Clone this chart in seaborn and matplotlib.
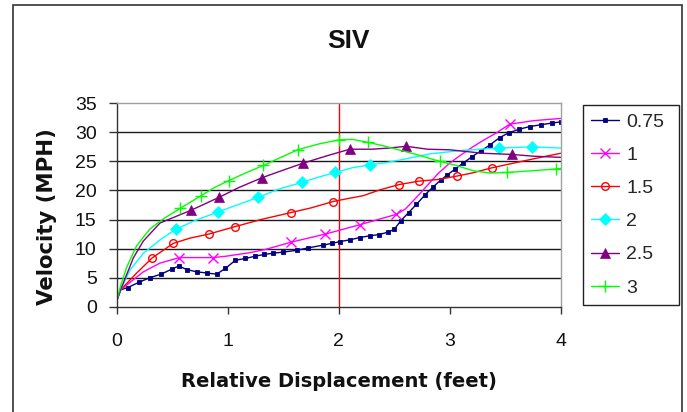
import matplotlib
matplotlib.use("Agg")
import matplotlib.pyplot as plt
from matplotlib.lines import Line2D
from matplotlib.patches import Rectangle
import seaborn as sns

# Relative displacement (feet) and velocity (MPH) for each load level
x_075 = [0, 0.035, 0.1, 0.2, 0.3, 0.4, 0.5, 0.56, 0.63, 0.72, 0.81, 0.9, 0.98, 1.07,
         1.16, 1.25, 1.33, 1.41, 1.5, 1.62, 1.72, 1.86, 1.94, 2.01, 2.1, 2.19, 2.28,
         2.36, 2.44, 2.5, 2.56, 2.63, 2.7, 2.78, 2.85, 2.92, 2.98, 3.05, 3.12, 3.2,
         3.28, 3.36, 3.45, 3.53, 3.62, 3.72, 3.82, 3.92, 4.0]
v_075 = [1.0, 2.9, 3.3, 4.2, 5.0, 5.6, 6.5, 7.0, 6.4, 6.0, 5.8, 5.6, 6.6, 8.0,
         8.3, 8.7, 9.0, 9.2, 9.4, 9.7, 10.1, 10.6, 10.9, 11.2, 11.5, 11.9, 12.2,
         12.4, 12.8, 13.3, 14.8, 16.2, 17.6, 19.3, 20.6, 21.8, 22.7, 23.7, 24.7, 25.8,
         26.8, 27.8, 29.1, 29.9, 30.5, 31.0, 31.3, 31.6, 31.8]

x_1 = [0, 0.035, 0.24, 0.39, 0.564, 0.87, 0.99, 1.2, 1.35, 1.57, 1.88, 2.19, 2.52,
       2.6, 2.7, 2.8, 2.9, 3.0, 3.1, 3.2, 3.3, 3.42, 3.54, 3.75, 4.0]
v_1 = [1.0, 2.9, 6.0, 7.5, 8.45, 8.45, 8.7, 9.3, 9.9, 11.1, 12.5, 14.1, 15.9,
       16.8, 18.8, 20.9, 23.0, 24.7, 26.1, 27.4, 28.6, 29.9, 31.4, 32.0, 32.4]

x_15 = [0, 0.035, 0.18, 0.32, 0.51, 0.66, 0.83, 1.07, 1.3, 1.57, 1.75, 1.95, 2.08,
        2.22, 2.37, 2.54, 2.72, 2.9, 3.07, 3.2, 3.38, 3.55, 3.72, 3.87, 4.0]
v_15 = [1.0, 2.9, 5.8, 8.4, 10.9, 11.8, 12.5, 13.8, 15.0, 16.2, 17.0, 18.1, 18.6,
        19.1, 20.1, 21.0, 21.6, 21.9, 22.5, 23.0, 23.9, 24.6, 25.3, 25.9, 26.4]

x_2 = [0, 0.035, 0.12, 0.24, 0.39, 0.53, 0.69, 0.91, 1.1, 1.27, 1.47, 1.67, 1.82,
       1.97, 2.12, 2.28, 2.43, 2.62, 2.82, 3.12, 3.44, 3.74, 4.0]
v_2 = [1.0, 2.9, 6.3, 9.2, 11.5, 13.3, 14.7, 16.3, 17.6, 18.8, 20.3, 21.4, 22.3,
       23.1, 23.9, 24.4, 24.8, 25.5, 26.3, 26.9, 27.3, 27.5, 27.3]

x_25 = [0, 0.035, 0.15, 0.24, 0.39, 0.53, 0.67, 0.92, 1.1, 1.31, 1.5, 1.68, 1.9,
        2.1, 2.3, 2.45, 2.61, 2.8, 3.0, 3.15, 3.3, 3.56, 3.75, 4.0]
v_25 = [1.0, 2.9, 8.4, 11.3, 14.4, 15.5, 16.6, 18.8, 20.5, 22.2, 23.5, 24.7, 26.0,
        27.1, 27.1, 27.3, 27.6, 27.1, 27.0, 26.7, 26.4, 26.2, 25.9, 25.7]

x_3 = [0, 0.035, 0.09, 0.18, 0.3, 0.435, 0.57, 0.76, 0.88, 1.01, 1.16, 1.32, 1.48,
       1.63, 1.82, 2.0, 2.12, 2.26, 2.4, 2.52, 2.7, 2.91, 3.06, 3.21, 3.36, 3.52,
       3.75, 3.96, 4.0]
v_3 = [0.9, 3.6, 6.8, 10.5, 13.4, 15.3, 16.9, 19.1, 20.5, 21.7, 23.0, 24.3, 25.7,
       27.0, 28.0, 28.7, 28.8, 28.3, 27.7, 27.1, 26.2, 25.0, 24.3, 23.4, 23.0, 23.1,
       23.4, 23.7, 23.8]

series_labels = ["0.75", "1", "1.5", "2", "2.5", "3"]
series_x = [x_075, x_1, x_15, x_2, x_25, x_3]
series_v = [v_075, v_1, v_15, v_2, v_25, v_3]

x_ticks = [0, 1, 2, 3, 4]
y_ticks = [0, 5, 10, 15, 20, 25, 30, 35]
reference_x = 2

# Line/marker styling per series (which samples carry a marker is a display choice)
styles = {
    "0.75": dict(color="#000080", marker="s", ms=2.2, mfc="#000080", mec="#000080", mew=0.6, markevery=slice(2, None)),
    "1":    dict(color="#FF00FF", marker="x", ms=7.5, mfc="none", mec="#FF00FF", mew=1.0, markevery=[4, 5, 9, 10, 11, 12, 22]),
    "1.5":  dict(color="#FF0000", marker="o", ms=5.5, mfc="none", mec="#FF0000", mew=1.0, markevery=[3, 4, 6, 7, 9, 11, 15, 16, 18, 20]),
    "2":    dict(color="#00FFFF", marker="D", ms=6.5, mfc="#00FFFF", mec="#00FFFF", mew=0.5, markevery=[5, 7, 9, 11, 13, 15, 20, 21]),
    "2.5":  dict(color="#800080", marker="^", ms=7.0, mfc="#800080", mec="#800080", mew=0.5, markevery=[6, 7, 9, 11, 13, 16, 21]),
    "3":    dict(color="#00FF00", marker="+", ms=9.0, mfc="none", mec="#00FF00", mew=1.0, markevery=[6, 7, 9, 11, 13, 15, 17, 21, 25, 27]),
}

sns.set_theme(style="white")
plt.rcParams["font.family"] = ["Liberation Sans", "DejaVu Sans"]

fig = plt.figure(figsize=(6.87, 4.12), dpi=100)
ax = fig.add_axes([116.7 / 687, 1 - 306.7 / 412, 444 / 687, 203.4 / 412])

# horizontal gridlines between the axis and the top border
for v in y_ticks[1:-1]:
    ax.axhline(v, color="#1a1a1a", lw=1.0, zorder=1)

ax.axvline(reference_x, color="#FF0000", lw=1.0, zorder=1.5)

for label, xs, vs in zip(series_labels, series_x, series_v):
    st = styles[label]
    sns.lineplot(x=xs, y=vs, ax=ax, legend=False, estimator=None, sort=False,
                 color=st["color"], linewidth=1.0, marker=st["marker"], ms=st["ms"],
                 mfc=st["mfc"], mec=st["mec"], mew=st["mew"], markevery=st["markevery"],
                 zorder=2)

ax.set_xlim(x_ticks[0], x_ticks[-1])
ax.set_ylim(y_ticks[0], y_ticks[-1])
ax.set_xticks(x_ticks)
ax.set_yticks(y_ticks)
ax.set_xticklabels([str(t) for t in x_ticks])
ax.set_yticklabels([str(t) for t in y_ticks])

ax.tick_params(axis="x", direction="out", length=5.2, width=1.0, color="#333333",
               pad=13.5, labelsize=14, labelcolor="#111111", bottom=True)
ax.tick_params(axis="y", direction="out", length=5.5, width=1.0, color="#333333",
               pad=8.9, labelsize=14, labelcolor="#111111", left=True)

for side in ("left", "bottom"):
    ax.spines[side].set_color("#333333")
    ax.spines[side].set_linewidth(1.0)
for side in ("top", "right"):
    ax.spines[side].set_color("#a0a0a0")
    ax.spines[side].set_linewidth(1.0)

ax.set_xlabel("Relative Displacement (feet)", fontsize=14, fontweight="bold",
              family=["DejaVu Sans"], color="#111111")
ax.xaxis.set_label_coords(0.5, -0.395)
ax.xaxis.label.set_va("baseline")

ax.set_ylabel("Velocity (MPH)", fontsize=15.3, fontweight="bold",
              family=["DejaVu Sans"], color="#111111")
ax.yaxis.set_label_coords(-0.1559, 0.441)
ax.yaxis.label.set_va("center")
ax.yaxis.label.set_ha("center")
ax.yaxis.label.set_rotation_mode("anchor")

fig.text(348 / 687, 1 - 48 / 412, "SIV", ha="center", va="baseline",
         fontsize=19, fontweight="bold", color="#111111")

handles = []
for label in series_labels:
    st = styles[label]
    handles.append(Line2D([0], [0], color=st["color"], lw=1.0, marker=st["marker"],
                          ms=st["ms"], mfc=st["mfc"], mec=st["mec"], mew=st["mew"]))

leg = ax.legend(handles, series_labels, loc="upper left",
                bbox_to_anchor=(583 / 687, 0.0, 96 / 687, 1 - 105 / 412),
                bbox_transform=fig.transFigure, mode="expand", borderaxespad=0,
                fontsize=14, handlelength=1.42, handletextpad=0.38,
                labelspacing=0.8, borderpad=0.42, frameon=True, fancybox=False,
                framealpha=1, edgecolor="#222222", numpoints=1)
leg.get_frame().set_linewidth(1.0)

# chart-area border
fig.add_artist(Rectangle((13 / 687, -0.05), (682 - 13) / 687, 1 - 5 / 412 + 0.05,
                         transform=fig.transFigure, fill=False,
                         edgecolor="#333333", linewidth=1.2))

fig.savefig("out.png", dpi=100)
